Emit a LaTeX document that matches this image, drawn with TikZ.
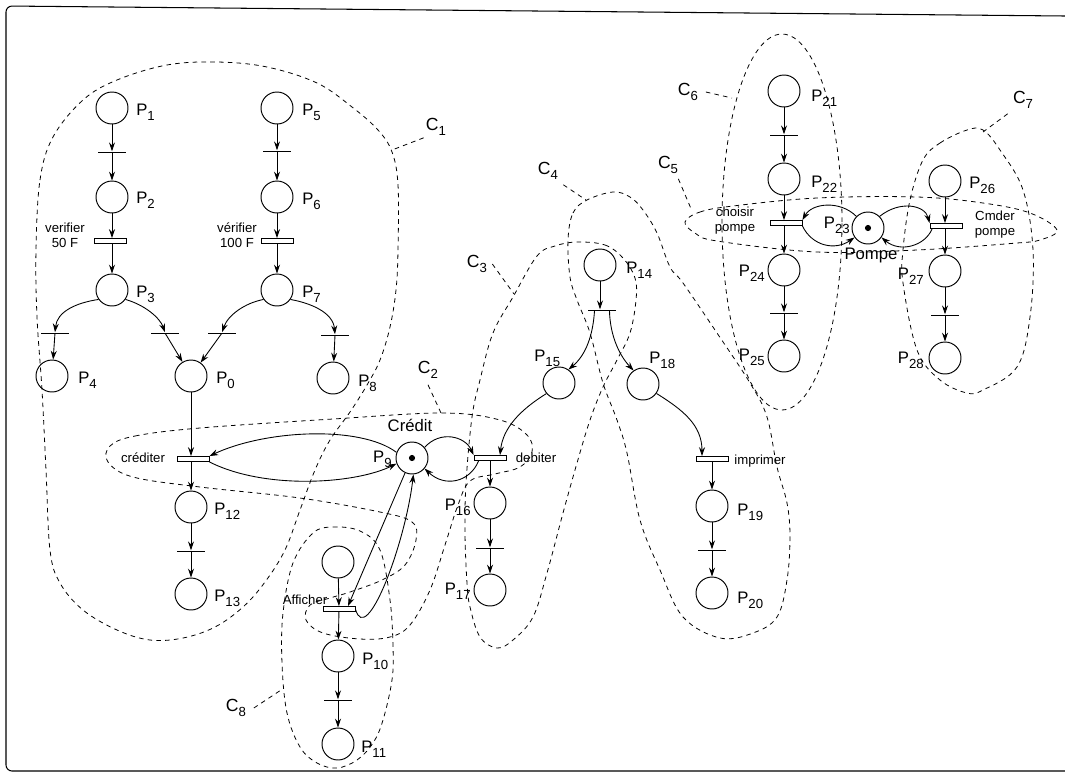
\documentclass[tikz,border=0pt]{standalone}
\usepackage{fontspec}
\setmainfont{Liberation Sans}
\usetikzlibrary{arrows.meta}
\newcommand\Pn[1]{P\raisebox{-0.6ex}{\fontsize{7.5}{8}\selectfont #1}}
\newcommand\Cn[1]{C\raisebox{-0.5ex}{\fontsize{7.5}{8}\selectfont #1}}
\tikzset{
 pl/.style={circle, draw, line width=0.55pt, minimum size=0.64cm, inner sep=0pt},
 timed/.style={rectangle, draw, line width=0.5pt, minimum width=0.64cm, minimum height=0.1cm, inner sep=0pt, fill=white},
 imm/.style={rectangle, fill=black, minimum width=0.56cm, minimum height=0.45pt, inner sep=0pt},
 flow/.style={-{Stealth[length=5pt,width=3.4pt]}, line width=0.5pt},
 bound/.style={dash pattern=on 2.6pt off 2.4pt, line width=0.45pt},
 lbl/.style={font=\fontsize{9.5}{11}\selectfont, inner sep=0pt},
 tlbl/.style={font=\fontsize{7.5}{8.5}\selectfont, align=center, inner sep=0pt},
 clbl/.style={font=\fontsize{10}{11}\selectfont, inner sep=0pt},
 tok/.style={circle, fill, inner sep=0pt, minimum size=3.5pt},
}
\begin{document}
\begin{tikzpicture}[x=0.02cm,y=-0.02cm]
\useasboundingbox (0,0) rectangle (1065,782);
% frame
\draw[line width=0.6pt, rounded corners=0.12cm] (1065,16) -- (6,6) -- (6,771) -- (1065,771);

% ---------- places ----------
\node[pl] (P1) at (112,108) {};
\node[pl] (P2) at (112,197) {};
\node[pl] (P3) at (112,290) {};
\node[pl] (P4) at (52,376) {};
\node[pl] (P0) at (191,376) {};
\node[pl] (P5) at (277,108) {};
\node[pl] (P6) at (277,197) {};
\node[pl] (P7) at (277,290) {};
\node[pl] (P8) at (333,378) {};
\node[pl] (P12) at (191,507) {};
\node[pl] (P13) at (191,594) {};
\node[pl] (P9) at (412,458) {};
\node[tok] (tk9) at (412,458) {};
\node[pl] (PX) at (338,562) {};
\node[pl] (P10) at (338,656) {};
\node[pl] (P11) at (338,744) {};
\node[pl] (P14) at (600,265) {};
\node[pl] (P15) at (559,383) {};
\node[pl] (P18) at (643,384) {};
\node[pl] (P16) at (490,503) {};
\node[pl] (P17) at (490,590) {};
\node[pl] (P19) at (712,506) {};
\node[pl] (P20) at (712,593) {};
\node[pl] (P21) at (784,91) {};
\node[pl] (P22) at (784,179) {};
\node[pl] (P24) at (784,270) {};
\node[pl] (P25) at (784,356) {};
\node[pl] (P23) at (868,228) {};
\node[tok] (tk23) at (868,228) {};
\node[pl] (P26) at (945,181) {};
\node[pl] (P27) at (945,271) {};
\node[pl] (P28) at (945,358) {};

% ---------- transitions ----------
\node[imm] (t12) at (112,152) {};
\node[timed] (tv50) at (110,241) {};
\node[imm] (t56) at (277,151) {};
\node[timed] (tv100) at (277,241) {};
\node[imm] (t34) at (55,333) {};
\node[imm] (t30) at (165,333) {};
\node[imm] (t70) at (222,333) {};
\node[imm] (t78) at (335,335) {};
\node[timed] (tcred) at (193,459) {};
\node[imm] (t1213) at (191,551) {};
\node[timed] (tdeb) at (490,458) {};
\node[imm] (t1617) at (490,548) {};
\node[imm] (t14) at (602,310) {};
\node[timed] (timp) at (712,459) {};
\node[imm] (t1920) at (712,550) {};
\node[timed] (taff) at (339,609) {};
\node[imm] (t1011) at (338,700) {};
\node[imm] (t2122) at (784,135) {};
\node[timed] (tcho) at (786,223) {};
\node[imm] (t2425) at (784,313) {};
\node[timed] (tcmd) at (946,226) {};
\node[imm] (t2728) at (945,315) {};

% ---------- arcs ----------
\draw[flow] (P1) -- (t12);
\draw[flow] (t12) -- (P2);
\draw[flow] (P2) -- (P2 |- tv50.north);
\draw[flow] (P2 |- tv50.south) -- (P3);
\draw[flow] (P5) -- (t56);
\draw[flow] (t56) -- (P6);
\draw[flow] (P6) -- (tv100);
\draw[flow] (tv100) -- (P7);
\draw[flow] (P3.215) .. controls (75,303) and (57,312) .. (t34.north);
\draw[flow] (t34) -- (P4);
\draw[flow] (P3.-35) .. controls (145,305) and (160,318) .. (t30.north);
\draw[flow] (t30) -- (P0);
\draw[flow] (P7.215) .. controls (245,303) and (228,315) .. (t70.north);
\draw[flow] (t70) -- (P0);
\draw[flow] (P7.-35) .. controls (310,303) and (333,312) .. (t78.north);
\draw[flow] (t78) -- (P8);
\draw[flow] (P0) -- (P0 |- tcred.north);
\draw[flow] (P12 |- tcred.south) -- (P12);
\draw[flow] (P12) -- (t1213);
\draw[flow] (t1213) -- (P13);
\draw[flow] (P9.160) .. controls (360,425) and (265,430) .. (tcred.north east);
\draw[flow] (tcred.south east) .. controls (265,490) and (355,484) .. (P9.200);
\draw[flow] (P9.40) .. controls (440,430) and (465,436) .. (tdeb.north west);
\draw[flow] ([xshift=0.1cm]tdeb.south west) .. controls (470,482) and (445,488) .. (P9.-40);
\draw[flow] (tdeb) -- (P16);
\draw[flow] (P16) -- (t1617);
\draw[flow] (t1617) -- (P17);
\draw[flow] (P15.220) .. controls (520,410) and (503,428) .. ([xshift=0.2cm]tdeb.north);
\draw[flow] (P14) -- (P14 |- t14.north);
\draw[flow] ([xshift=-0.15cm]t14.south) .. controls (593,335) and (586,355) .. (P15.55);
\draw[flow] ([xshift=0.15cm]t14.south) .. controls (610,335) and (619,355) .. (P18.125);
\draw[flow] (P18.-35) .. controls (683,410) and (702,425) .. ([xshift=-0.2cm]timp.north);
\draw[flow] (timp) -- (P19);
\draw[flow] (P19) -- (t1920);
\draw[flow] (t1920) -- (P20);
\draw[flow] (PX) -- (taff);
\draw[flow] (taff) -- (P10);
\draw[flow] (P10) -- (t1011);
\draw[flow] (t1011) -- (P11);
\draw[flow] (P9.245) -- ([xshift=0.18cm]taff.north);
\draw[flow] (taff.east) .. controls (366,648) and (405,545) .. (P9.275);
\draw[flow] (P21) -- (t2122);
\draw[flow] (t2122) -- (P22);
\draw[flow] (P22) -- (P22 |- tcho.north);
\draw[flow] (P24 |- tcho.south) -- (P24);
\draw[flow] (P24) -- (t2425);
\draw[flow] (t2425) -- (P25);
\draw[flow] (P23.135) .. controls (840,200) and (812,203) .. (tcho.north east);
\draw[flow] (tcho.south east) .. controls (812,246) and (835,251) .. (P23.215);
\draw[flow] (P23.45) .. controls (900,200) and (925,205) .. (tcmd.north west);
\draw[flow] ([xshift=0.05cm]tcmd.south west) .. controls (925,246) and (900,253) .. (P23.-35);
\draw[flow] (P26) -- (P26 |- tcmd.north);
\draw[flow] (P27 |- tcmd.south) -- (P27);
\draw[flow] (P27) -- (t2728);
\draw[flow] (t2728) -- (P28);

% ---------- place labels ----------
\node[lbl, anchor=west] (l1) at (136,112) {\Pn{1}};
\node[lbl, anchor=west] (l2) at (136,200) {\Pn{2}};
\node[lbl, anchor=west] (l3) at (136,294) {\Pn{3}};
\node[lbl, anchor=west] (l4) at (78,380) {\Pn{4}};
\node[lbl, anchor=west] (l0) at (216,380) {\Pn{0}};
\node[lbl, anchor=west] (l5) at (302,112) {\Pn{5}};
\node[lbl, anchor=west] (l6) at (302,201) {\Pn{6}};
\node[lbl, anchor=west] (l7) at (302,294) {\Pn{7}};
\node[lbl, anchor=west] (l8) at (358,383) {\Pn{8}};
\node[lbl, anchor=east] (l9) at (392,459) {\Pn{9}};
\node[lbl] (lcred) at (410,425) {Crédit};
\node[lbl, anchor=west] (l12) at (214,511) {\Pn{12}};
\node[lbl, anchor=west] (l13) at (214,598) {\Pn{13}};
\node[lbl, anchor=west] (l10) at (362,661) {\Pn{10}};
\node[lbl, anchor=west] (l11) at (361,749) {\Pn{11}};
\node[lbl, anchor=west] (l14) at (626,270) {\Pn{14}};
\node[lbl, anchor=west] (l15) at (534,358) {\Pn{15}};
\node[lbl, anchor=west] (l18) at (649,360) {\Pn{18}};
\node[lbl, anchor=east] (l16) at (471,507) {\Pn{16}};
\node[lbl, anchor=east] (l17) at (471,591) {\Pn{17}};
\node[lbl, anchor=west] (l19) at (737,512) {\Pn{19}};
\node[lbl, anchor=west] (l20) at (737,600) {\Pn{20}};
\node[lbl, anchor=west] (l21) at (811,98) {\Pn{21}};
\node[lbl, anchor=west] (l22) at (811,184) {\Pn{22}};
\node[lbl, anchor=east] (l23) at (850,225) {\Pn{23}};
\node[lbl] (lpompe) at (871,255) {Pompe};
\node[lbl, anchor=east] (l24) at (765,273) {\Pn{24}};
\node[lbl, anchor=east] (l25) at (765,357) {\Pn{25}};
\node[lbl, anchor=west] (l26) at (969,185) {\Pn{26}};
\node[lbl, anchor=east] (l27) at (924,276) {\Pn{27}};
\node[lbl, anchor=east] (l28) at (924,360) {\Pn{28}};

% ---------- transition labels ----------
\node[tlbl] (lv50) at (65,235) {verifier\\50 F};
\node[tlbl] (lv100) at (237,235) {vérifier\\100 F};
\node[tlbl] (lcr) at (143,458) {créditer};
\node[tlbl] (ldeb) at (536,458) {debiter};
\node[tlbl] (limp) at (760,461) {imprimer};
\node[tlbl] (laff) at (305,600) {Afficher};
\node[tlbl] (lcho) at (735,221) {choisir\\pompe};
\node[tlbl] (lcmd) at (995,225) {Cmder\\pompe};

% ---------- component boundaries ----------
\draw[bound] plot[smooth cycle, tension=0.6] coordinates {
 (36,250) (40,180) (53,137) (83,100) (117,80) (167,65) (217,62) (267,67) (317,83)
 (352,107) (378,130) (392,152) (398,185) (398,250) (396,290) (390,327) (380,360)
 (367,385) (350,412) (330,440) (315,470) (300,510) (285,550) (265,582) (243,607)
 (215,627) (183,638) (150,640) (117,630) (83,610) (60,583) (50,550) (46,470)
 (42,390) (37,317)};
\draw[bound] plot[smooth cycle, tension=0.6] coordinates {
 (110,446) (135,436) (200,428) (333,419) (443,413) (500,420) (527,435) (532,452)
 (520,467) (495,474) (470,481) (458,505) (445,545) (430,590) (410,625) (390,637)
 (360,639) (323,633) (306,620) (310,605) (330,598) (350,592) (382,580) (405,565)
 (416,540) (412,522) (380,512) (300,498) (200,487) (133,477) (108,462)};
\draw[bound] plot[smooth cycle, tension=0.6] coordinates {
 (577,242) (605,245) (623,258) (635,278) (636,300) (630,333) (617,360) (603,387)
 (590,420) (577,463) (563,513) (547,573) (533,617) (513,640) (497,648) (480,637)
 (470,607) (467,583) (465,533) (466,483) (472,417) (480,380) (493,333) (513,297)
 (537,256) (555,246)};
\draw[bound] plot[smooth cycle, tension=0.6] coordinates {
 (568,240) (573,213) (587,200) (613,192) (630,197) (643,210) (657,233) (670,267)
 (683,283) (717,333) (750,383) (767,417) (777,467) (787,503) (790,537) (787,580)
 (777,617) (753,633) (720,638) (683,617) (660,570) (640,520) (627,453) (617,420)
 (603,383) (590,333) (577,300) (570,277)};
\draw[bound] plot[smooth cycle, tension=0.6] coordinates {
 (685,222) (700,212) (733,206) (817,198) (917,197) (983,203) (1030,213) (1057,230)
 (1040,240) (1017,243) (917,250) (817,252) (717,241) (695,233)};
\draw[bound] (782,222) ellipse [x radius=1.2cm, y radius=3.76cm];
\draw[bound] plot[smooth cycle, tension=0.6] coordinates {
 (923,160) (940,143) (967,130) (983,130) (1000,150) (1023,190) (1033,250)
 (1030,317) (1017,367) (983,390) (967,393) (940,380) (917,350) (903,283)
 (903,250) (910,200)};
\draw[bound] plot[smooth cycle, tension=0.6] coordinates {
 (313,533) (333,527) (360,531) (380,550) (390,600) (393,647) (392,680) (383,720)
 (373,743) (357,760) (337,768) (317,763) (300,747) (287,713) (282,663) (283,613)
 (293,563)};

% ---------- component labels ----------
\node[clbl] (c1) at (436,127) {\Cn{1}};
\coordinate (c1a) at (392,150);
\draw[bound] (c1.south west) ++(-2,2) -- (c1a);
\node[clbl] (c2) at (428,370) {\Cn{2}};
\coordinate (c2a) at (441,413);
\draw[bound] ([yshift=-0.12cm]c2.south) -- (c2a);
\node[clbl] (c3) at (477,264) {\Cn{3}};
\coordinate (c3a) at (514,294);
\draw[bound] ([xshift=0.1cm]c3.east) -- (c3a);
\node[clbl] (c4) at (548,171) {\Cn{4}};
\coordinate (c4a) at (586,200);
\draw[bound] ([shift={(0.1cm,-0.1cm)}]c4.south east) -- (c4a);
\node[clbl] (c5) at (668,165) {\Cn{5}};
\coordinate (c5a) at (692,211);
\draw[bound] ([yshift=-0.1cm]c5.south east) -- (c5a);
\node[clbl] (c6) at (688,92) {\Cn{6}};
\coordinate (c6a) at (732,98);
\draw[bound] ([xshift=0.15cm]c6.east) -- (c6a);
\node[clbl] (c7) at (1023,100) {\Cn{7}};
\coordinate (c7a) at (983,132);
\draw[bound] ([shift={(-0.1cm,-0.1cm)}]c7.south west) -- (c7a);
\node[clbl] (c8) at (236,708) {\Cn{8}};
\coordinate (c8a) at (281,690);
\draw[bound] ([xshift=0.15cm]c8.east) -- (c8a);
\end{tikzpicture}
\end{document}
